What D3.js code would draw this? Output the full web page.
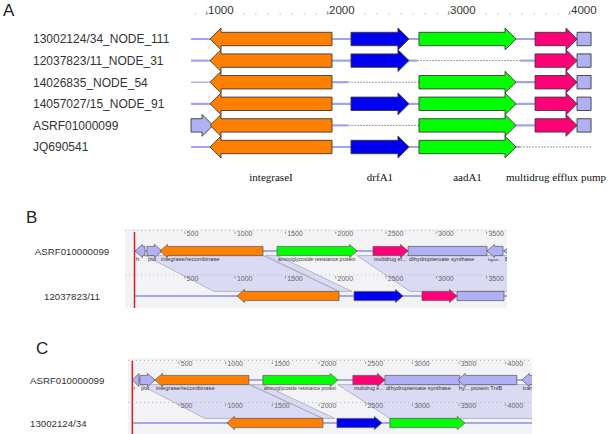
<!DOCTYPE html>
<html><head><meta charset="utf-8">
<script src="https://cdn.jsdelivr.net/npm/d3@7"></script>
<style>html,body{margin:0;padding:0;background:#fff;}svg{display:block;}</style>
</head><body><svg id="c" width="609" height="434"></svg>
<script>
// ---------- DATA ----------
const aTicks = [1000, 2000, 3000, 4000];
const aMinor = d3.range(900, 4001, 100);
const aRows = ["13002124/34_NODE_111", "12037823/11_NODE_31", "14026835_NODE_54", "14057027/15_NODE_91", "ASRF01000099", "JQ690541"];
const aGenes = [
  {id: "orf",   s: 868,  e: 1050, strand: 1,  type: "other"},
  {id: "intI",  s: 1025, e: 2033, strand: -1, type: "intI", name: "integraseI"},
  {id: "drfA1", s: 2190, e: 2669, strand: 1,  type: "dfr",  name: "drfA1"},
  {id: "aadA1", s: 2752, e: 3554, strand: 1,  type: "aad",  name: "aadA1"},
  {id: "qac",   s: 3711, e: 4058, strand: 1,  type: "qac",  name: "multidrug efflux pump"},
  {id: "box",   s: 4058, e: 4174, strand: 0,  type: "other"}
];
const aRowGenes = [
  ["intI", "drfA1", "aadA1", "qac", "box"],
  ["intI", "drfA1", "qac", "box"],
  ["intI", "aadA1", "qac", "box"],
  ["intI", "drfA1", "aadA1", "qac", "box"],
  ["orf", "intI", "aadA1", "qac", "box"],
  ["intI", "drfA1", "aadA1"]
];
const aRowSolid = [
  [[868, 4058]],
  [[868, 2736], [3587, 4058]],
  [[2033, 2165], [2752, 4058]],
  [[868, 4058]],
  [[2033, 2165], [2752, 4058]],
  [[868, 3587]]
];
const aRowThin = [[], [], [[868, 1025]], [], [], []];
const aRowDashed = [[], [[2736, 3587]], [[2165, 2752]], [], [[2165, 2752]], [[3587, 4174]]];
const aGeneLabels = ["intI", "drfA1", "aadA1", "qac"];

const bTicks = [500, 1000, 1500, 2000, 2500, 3000, 3500];
const bLabels = ["ASRF010000099", "12037823/11"];
const bTop = [
  {s: 5,    e: 104,  strand: -1, type: "other", label: "h"},
  {s: 124,  e: 273,  strand: 1,  type: "other", label: "put"},
  {s: 253,  e: 1277, strand: -1, type: "intI",  label: "integrase/recombinase"},
  {s: 1417, e: 2212, strand: 1,  type: "aad",   label: "aminoglycoside resistance protein"},
  {s: 2371, e: 2719, strand: 1,  type: "qac",   label: "multidrug ef..."},
  {s: 2719, e: 3504, strand: 0,  type: "other", label: "dihydropteroate synthase"},
  {s: 3504, e: 3663, strand: -1, type: "other", label: "hypot..."},
  {s: 3673, e: 3900, strand: -1, type: "other", label: "B"}
];
const bBottom = [
  {s: 1019, e: 2033, strand: -1, type: "intI"},
  {s: 2182, e: 2669, strand: 1,  type: "dfr"},
  {s: 2858, e: 3206, strand: 1,  type: "qac"},
  {s: 3206, e: 3673, strand: 0,  type: "other"}
];
const bMatches = [
  {t: [104, 1277], b: [790, 2033]},
  {t: [1297, 1417], b: [2033, 2162]},
  {t: [2212, 3900], b: [2740, 3900]}
];

const cTicks = [500, 1000, 1500, 2000, 2500, 3000, 3500, 4000];
const cLabels = ["ASRF010000099", "13002124/34"];
const cTop = [
  {s: 0,    e: 72,   strand: -1, type: "other", label: "r"},
  {s: 82,   e: 243,  strand: 1,  type: "other", label: "put"},
  {s: 243,  e: 1249, strand: -1, type: "intI",  label: "integrase/recombinase"},
  {s: 1399, e: 2202, strand: 1,  type: "aad",   label: "aminoglycoside resistance protein"},
  {s: 2363, e: 2706, strand: 1,  type: "qac",   label: "multidrug e..."},
  {s: 2706, e: 3509, strand: 0,  type: "other", label: "dihydropteroate synthase"},
  {s: 3487, e: 4119, strand: -1, type: "other", label: "hy... protein TniB"},
  {s: 4173, e: 4500, strand: -1, type: "other", label: "tran..."}
];
const cBottom = [
  {s: 1014, e: 2042, strand: -1, type: "intI"},
  {s: 2192, e: 2674, strand: 1,  type: "dfr"},
  {s: 2759, e: 3562, strand: 1,  type: "aad"}
];
const cMatches = [
  {t: [82, 1249], b: [778, 2042]},
  {t: [1260, 1399], b: [2042, 2170]},
  {t: [2202, 4500], b: [2759, 4500]}
];

// ---------- STYLE ----------
const color = d3.scaleOrdinal()
  .domain(["intI", "dfr", "aad", "qac", "other"])
  .range(["#ff8000", "#0000ee", "#00ff00", "#ff0077", "#b0b0f4"]);
const SANS = "Liberation Sans, Arial, sans-serif";
const svg = d3.select("#c");

function arrowPath(xa, xb, y, strand, bh, hh, hl) {
  const x0 = Math.min(xa, xb), x1 = Math.max(xa, xb);
  const h = Math.min(hl, x1 - x0);
  if (strand > 0) {
    return `M${x0},${y - bh}L${x1 - h},${y - bh}L${x1 - h},${y - hh}L${x1},${y}L${x1 - h},${y + hh}L${x1 - h},${y + bh}L${x0},${y + bh}Z`;
  } else if (strand < 0) {
    return `M${x1},${y - bh}L${x0 + h},${y - bh}L${x0 + h},${y - hh}L${x0},${y}L${x0 + h},${y + hh}L${x0 + h},${y + bh}L${x1},${y + bh}Z`;
  }
  return `M${x0},${y - bh}L${x1},${y - bh}L${x1},${y + bh}L${x0},${y + bh}Z`;
}

// ---------- PANEL A ----------
const xA = d3.scaleLinear().domain([1000, 4000]).range([207, 570]);
const yA = d3.scalePoint().domain(aRows).range([39, 147]);
const gA = svg.append("g");
gA.append("text").attr("x", 3).attr("y", 16).attr("font-family", SANS).attr("font-size", 17).attr("fill", "#222").text("A");
gA.selectAll("rect.minor").data(aMinor).join("rect")
  .attr("x", d => xA(d)).attr("y", 13.5).attr("width", 1).attr("height", 1).attr("fill", "#999");
gA.selectAll("line.major").data(aTicks).join("line")
  .attr("x1", d => xA(d)).attr("x2", d => xA(d) - 1).attr("y1", 11).attr("y2", 15)
  .attr("stroke", "#777").attr("stroke-width", 0.8);
gA.selectAll("text.tick").data(aTicks).join("text")
  .attr("x", d => xA(d) + 1).attr("y", 14).attr("font-family", SANS).attr("font-size", 11.5).attr("fill", "#333").text(d => d);

const geneById = new Map(aGenes.map(g => [g.id, g]));
aRows.forEach((r, i) => {
  const y = yA(r);
  const g = gA.append("g");
  g.append("text").attr("x", 33).attr("y", y + 4.3).attr("font-family", SANS).attr("font-size", 12).attr("fill", "#333").text(r);
  g.selectAll("line.solid").data(aRowSolid[i]).join("line")
    .attr("x1", d => xA(d[0])).attr("x2", d => xA(d[1])).attr("y1", y).attr("y2", y)
    .attr("stroke", "#a2a2f0").attr("stroke-width", 2.2);
  g.selectAll("line.thin").data(aRowThin[i]).join("line")
    .attr("x1", d => xA(d[0])).attr("x2", d => xA(d[1])).attr("y1", y).attr("y2", y)
    .attr("stroke", "#8a8ad8").attr("stroke-width", 1);
  g.selectAll("line.dash").data(aRowDashed[i]).join("line")
    .attr("x1", d => xA(d[0])).attr("x2", d => xA(d[1])).attr("y1", y).attr("y2", y)
    .attr("stroke", "#9a9a9a").attr("stroke-width", 1).attr("stroke-dasharray", "2,1");
  g.selectAll("path").data(aRowGenes[i].map(id => geneById.get(id))).join("path")
    .attr("d", d => arrowPath(xA(d.s), xA(d.e), y, d.strand, 6.7, 10.9, 11))
    .attr("fill", d => color(d.type)).attr("stroke", "#3a3a3a").attr("stroke-width", 0.9);
});
gA.selectAll("text.gname").data(aGeneLabels.map(id => geneById.get(id))).join("text")
  .attr("x", d => (xA(d.s) + xA(d.e)) / 2).attr("y", 181).attr("text-anchor", "middle")
  .attr("font-family", "Liberation Serif, Times New Roman, serif").attr("font-size", 11).attr("fill", "#111")
  .text(d => d.name);

// ---------- PANELS B & C ----------
function comparePanel(o) {
  const g = svg.append("g");
  g.append("text").attr("x", o.letterX).attr("y", o.letterY).attr("font-family", SANS).attr("font-size", 17).attr("fill", "#222").text(o.letter);
  g.selectAll("text.lab").data(o.labels).join("text")
    .attr("x", o.labelX).attr("y", (d, i) => (i === 0 ? o.yTop : o.yBot) + 3.5)
    .attr("text-anchor", o.labelAnchor).attr("font-family", SANS).attr("font-size", 9.7).attr("fill", "#333").text(d => d);
  const clipId = "clip" + o.letter;
  svg.append("clipPath").attr("id", clipId).append("rect")
    .attr("x", o.box[0]).attr("y", o.box[1]).attr("width", o.box[2] - o.box[0]).attr("height", o.box[3] - o.box[1]);
  const p = g.append("g").attr("clip-path", `url(#${clipId})`);
  p.append("rect").attr("x", o.box[0]).attr("y", o.box[1]).attr("width", o.box[2] - o.box[0]).attr("height", o.box[3] - o.box[1]).attr("fill", "#f3f3f6");
  const x = o.x;
  const bh = 4.6, hh = 6.6, hl = 7.5;
  const yT = o.yTop + bh, yB = o.yBot - bh;
  // matches
  p.selectAll("path.m").data(o.matches).join("path")
    .attr("d", d => `M${x(d.t[0])},${yT}L${x(d.t[1])},${yT}L${x(d.b[1])},${yB}L${x(d.b[0])},${yB}Z`)
    .attr("fill", "#c9c9f3").attr("fill-opacity", 0.6).attr("stroke", "#a0a0b0").attr("stroke-width", 0.7);
  // rulers
  [o.rulerTop, o.rulerBot].forEach(ry => {
    p.append("line").attr("x1", o.box[0]).attr("x2", o.box[2]).attr("y1", ry).attr("y2", ry)
      .attr("stroke", "#aaa").attr("stroke-width", 0.8).attr("stroke-dasharray", "1,3");
    p.selectAll(null).data(o.ticks).join("line")
      .attr("x1", d => x(d)).attr("x2", d => x(d)).attr("y1", ry + 1).attr("y2", ry + 3.5)
      .attr("stroke", "#777").attr("stroke-width", 0.7);
    p.selectAll(null).data(o.ticks).join("text")
      .attr("x", d => x(d) + 1.8).attr("y", ry + 5.5).attr("font-family", SANS).attr("font-size", 7).attr("fill", "#666").text(d => d);
  });
  // backbone lines
  [o.yTop, o.yBot].forEach(yy => {
    p.append("line").attr("x1", x(0)).attr("x2", o.box[2]).attr("y1", yy).attr("y2", yy)
      .attr("stroke", "#8c8ce6").attr("stroke-width", 1.3);
  });
  // genes
  p.selectAll("path.gt").data(o.top).join("path")
    .attr("d", d => arrowPath(x(d.s), x(d.e), o.yTop, d.strand, bh, hh, hl))
    .attr("fill", d => color(d.type)).attr("stroke", "#555").attr("stroke-width", 0.7);
  p.selectAll("path.gb").data(o.bottom).join("path")
    .attr("d", d => arrowPath(x(d.s), x(d.e), o.yBot, d.strand, bh, hh, hl))
    .attr("fill", d => color(d.type)).attr("stroke", "#555").attr("stroke-width", 0.7);
  p.selectAll("text.gl").data(o.top).join("text")
    .attr("x", d => Math.min(x(d.s), x(d.e)) + 1).attr("y", o.yTop + 10)
    .attr("font-family", SANS).attr("font-size", 5.8).attr("fill", "#333").text(d => d.label)
    .each(function(d) {
      const w = Math.abs(x(d.e) - x(d.s)) - 2.5;
      const nat = this.getComputedTextLength();
      if (nat > w + 2) d3.select(this).attr("font-size", 5.8 * w / nat);
    });
  // red origin line
  g.append("line").attr("x1", x(0)).attr("x2", x(0)).attr("y1", o.box[1] + 3).attr("y2", o.box[3])
    .attr("stroke", "#dd2020").attr("stroke-width", 1.5);
}

comparePanel({
  letter: "B", letterX: 26, letterY: 223,
  labels: bLabels, labelX: 72, labelAnchor: "middle",
  box: [125, 229, 507, 308],
  x: d3.scaleLinear().domain([0, 3500]).range([134.5, 486.6]),
  ticks: bTicks, rulerTop: 230.5, rulerBot: 275,
  yTop: 251, yBot: 296,
  top: bTop, bottom: bBottom, matches: bMatches
});
comparePanel({
  letter: "C", letterX: 36, letterY: 354,
  labels: cLabels, labelX: 30, labelAnchor: "start",
  box: [128, 358, 532, 434],
  x: d3.scaleLinear().domain([0, 4000]).range([132.3, 505.7]),
  ticks: cTicks, rulerTop: 360.5, rulerBot: 402.5,
  yTop: 380, yBot: 423,
  top: cTop, bottom: cBottom, matches: cMatches
});
</script></body></html>
